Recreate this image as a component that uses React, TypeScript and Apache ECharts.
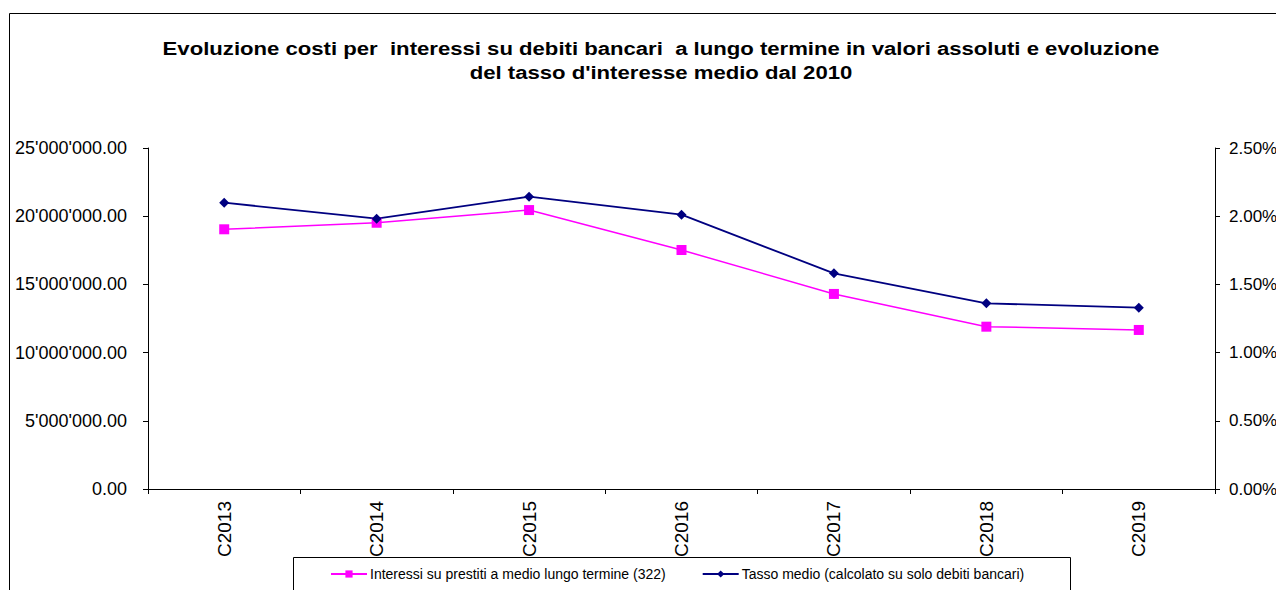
import React, { useEffect, useRef } from "react";
import * as echarts from "echarts";

const categories = ["C2013", "C2014", "C2015", "C2016", "C2017", "C2018", "C2019"];
const interessi = [19040000, 19520000, 20450000, 17520000, 14300000, 11900000, 11660000];
const tassoMedio = [2.099, 1.982, 2.143, 2.011, 1.581, 1.361, 1.329];
const leftTicks = { min: 0, max: 25000000, interval: 5000000 };
const rightTicks = { min: 0, max: 2.5, interval: 0.5 };
const seriesNames = [
  "Interessi su prestiti a medio lungo termine (322)",
  "Tasso medio (calcolato su solo debiti bancari)",
];
const titleLines = [
  "Evoluzione costi per  interessi su debiti bancari  a lungo termine in valori assoluti e evoluzione",
  "del tasso d'interesse medio dal 2010",
];

const fmtLeft = (v: number) => {
  const [i, d] = v.toFixed(2).split(".");
  return i.replace(/\B(?=(\d{3})+(?!\d))/g, "'") + "." + d;
};

export default function App() {
  const ref = useRef<HTMLDivElement>(null);
  useEffect(() => {
    document.documentElement.style.overflow = "hidden";
    const chart = echarts.init(ref.current!, null, { renderer: "svg" });
    const font = "Arial, 'Liberation Sans', sans-serif";
    chart.setOption({
      animation: false,
      backgroundColor: "#fff",
      grid: { left: 140, right: 69, top: 140, bottom: 101, containLabel: false },
      graphic: [
        {
          type: "rect",
          shape: { x: 1.5, y: 5.5, width: 1400, height: 700 },
          style: { fill: "none", stroke: "#000", lineWidth: 1 },
          silent: true,
        },
        {
          type: "rect",
          shape: { x: 285.5, y: 549.5, width: 777, height: 100 },
          style: { fill: "#fff", stroke: "#000", lineWidth: 1 },
          silent: true,
          z: -1,
        },
        {
          type: "text",
          x: 653,
          y: 29,
          scaleX: 1.23,
          style: {
            text: titleLines.join("\n"),
            font: "bold 18px " + font,
            fill: "#000",
            textAlign: "center",
            textVerticalAlign: "top",
            lineHeight: 24,
          },
        },
      ],
      legend: {
        left: 322,
        top: 559,
        padding: 0,
        itemWidth: 36,
        itemHeight: 9,
        itemGap: 36,
        textStyle: { fontFamily: font, fontSize: 14, color: "#000", padding: [0, 0, 0, -2] },
        data: seriesNames,
      },
      xAxis: {
        type: "category",
        data: categories,
        boundaryGap: true,
        axisLine: { lineStyle: { color: "#000", width: 1 } },
        axisTick: { show: true, length: 5, lineStyle: { color: "#000" } },
        axisLabel: { rotate: 90, margin: 12, fontSize: 19, fontFamily: font, color: "#000" },
        splitLine: { show: false },
      },
      yAxis: [
        {
          type: "value",
          ...leftTicks,
          position: "left",
          axisLine: { show: true, lineStyle: { color: "#000", width: 1 } },
          axisTick: { show: true, length: 5, lineStyle: { color: "#000" } },
          axisLabel: { formatter: fmtLeft, margin: 21, fontSize: 18, fontFamily: font, color: "#000" },
          splitLine: { show: false },
        },
        {
          type: "value",
          ...rightTicks,
          position: "right",
          axisLine: { show: true, lineStyle: { color: "#000", width: 1 } },
          axisTick: { show: true, length: 5, lineStyle: { color: "#000" } },
          axisLabel: {
            formatter: (v: number) => v.toFixed(2) + "%",
            margin: 14,
            fontSize: 17,
            fontFamily: font,
            color: "#000",
          },
          splitLine: { show: false },
        },
      ],
      series: [
        {
          name: seriesNames[0],
          type: "line",
          yAxisIndex: 0,
          data: interessi,
          symbol: "rect",
          symbolSize: 10,
          color: "#FF00FF",
          lineStyle: { color: "#FF00FF", width: 1.5 },
          itemStyle: { color: "#FF00FF" },
        },
        {
          name: seriesNames[1],
          type: "line",
          yAxisIndex: 1,
          data: tassoMedio,
          symbol: "diamond",
          symbolSize: 10,
          color: "#000080",
          lineStyle: { color: "#000080", width: 1.8 },
          itemStyle: { color: "#000080" },
        },
      ],
    });
    return () => chart.dispose();
  }, []);
  return <div ref={ref} style={{ width: 1276, height: 582 }} />;
}
